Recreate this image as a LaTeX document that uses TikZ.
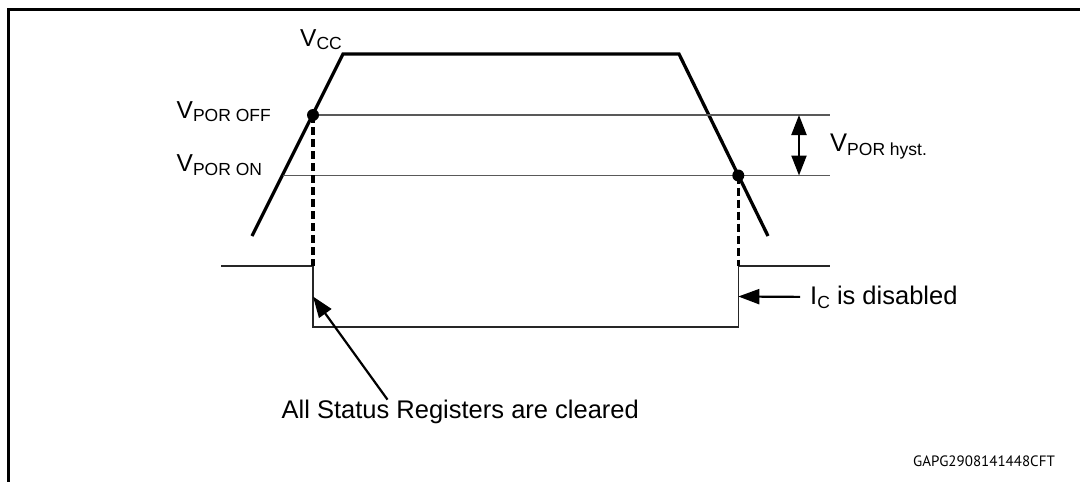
\documentclass[tikz,border=0pt]{standalone}
\usepackage{fontspec}
\setmainfont{Liberation Sans}
\newfontfamily\codefont{PT Sans}
\usetikzlibrary{arrows.meta,calc}
\newcommand{\lsub}[1]{\raisebox{-0.16em}{\fontsize{17.5}{19}\selectfont #1}}

\begin{document}
\begin{tikzpicture}[x=1pt,y=-1pt,
		font=\fontsize{25.5}{30}\selectfont,
		frame/.style={line width=3pt},
		supply/.style={line width=3.3pt, line join=miter},
		level/.style={draw=black!65, line width=1.3pt},
		signal/.style={draw=black!85, line width=1.3pt},
		guide/.style={line width=3.3pt, dash pattern=on 8pt off 4pt},
		pointer/.style={line width=2.2pt, -{Triangle[length=21pt,width=15pt]}},
		both/.style={line width=2.2pt, {Triangle[length=20pt,width=15pt]}-{Triangle[length=20pt,width=15pt]}},
		lbl/.style={inner sep=0pt, anchor=base west},
		vlbl/.style={lbl, font=\fontsize{24.5}{28}\selectfont},
	]
	\useasboundingbox (0,0) rectangle (1080,482);
	\draw[frame] (8,483) -- (8,9.5) -- (1081,9.5);

	% supply ramp
	\coordinate (v0) at (252,236);
	\coordinate (v1) at (343,54);
	\coordinate (v2) at (679,54);
	\coordinate (v3) at (768,236);
	\draw[supply] (v0) -- (v1) -- (v2) -- (v3);

	% thresholds
	\coordinate (offL) at (313,115);
	\coordinate (offR) at (830,115);
	\coordinate (onL) at (282.5,175.5);
	\coordinate (onR) at (830,175.5);
	\coordinate (onD) at (738.3,175.5);
	\draw[level] (offL) -- (offR);
	\draw[level] (onL) -- (onR);
	\fill (offL) circle[radius=6];
	\fill (onD) circle[radius=6];

	% reset pulse
	\coordinate (lo0) at (221,266);
	\coordinate (sL) at (313,266);
	\coordinate (sLb) at (313,327);
	\coordinate (sRb) at (738.3,327);
	\coordinate (sR) at (738.3,266);
	\coordinate (hi1) at (830,266);
	\draw[signal] (lo0) -- (sL) -- (sLb) -- (sRb) -- (sR) -- (hi1);
	\draw[guide] (offL) -- (sL);
	\draw[guide] (onD) -- (sR);

	% hysteresis
	\draw[both] (799,115) -- (799,175.5);

	% labels
	\node[vlbl] (vcc) at (300,46) {V\lsub{CC}};
	\node[vlbl] (voff) at (176.5,118) {V\lsub{POR OFF}};
	\node[vlbl] (von) at (176.5,171.5) {V\lsub{POR ON}};
	\node[lbl] (vhyst) at (830,151.5) {V\lsub{POR hyst.}};
	\node[lbl] (disabled) at (810,304) {I\lsub{C} is disabled};
	\node[lbl] (cleared) at (281.5,418.3) {All Status Registers are cleared};
	\node[lbl, font=\codefont\fontsize{15}{17}\selectfont] (code) at (913,466.5) {GAPG2908141448CFT};

	% pointers
	\draw[pointer] ($(disabled.west)+(-10,0)$) -- ($(sR)!0.5!(sRb)$ |- disabled.west);
	\draw[pointer] ([xshift=106pt]cleared.north west) -- ($(sL)!0.5!(sLb)$);
\end{tikzpicture}
\end{document}
